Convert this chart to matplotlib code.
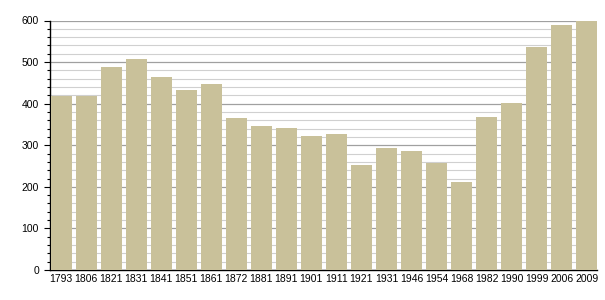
import matplotlib
matplotlib.use('Agg')
import matplotlib.pyplot as plt
import numpy as np
from matplotlib.ticker import MultipleLocator

years = ['1793', '1806', '1821', '1831', '1841', '1851', '1861', '1872', '1881', '1891', '1901',
         '1911', '1921', '1931', '1946', '1954', '1968', '1982', '1990', '1999', '2006', '2009']
population = [418, 418, 489, 507, 464, 434, 447, 366, 346, 341, 322,
              327, 252, 293, 286, 258, 212, 368, 401, 537, 589, 600]

plt.rcParams['font.family'] = ['Liberation Sans', 'DejaVu Sans']

fig = plt.figure(figsize=(6.05, 3.0), dpi=100)
ax = fig.add_axes([50 / 605, 30 / 300, 547 / 605, 249.5 / 300])

x = np.arange(len(years))
w = 0.83
ax.bar(x, population, width=w, color='#c9c19a', zorder=3)

ax.set_xlim(-w / 2 - 0.03, len(years) - 1 + w / 2)
ax.set_ylim(0, 600)
ax.yaxis.set_major_locator(MultipleLocator(100))
ax.yaxis.set_minor_locator(MultipleLocator(20))
ax.grid(axis='y', which='major', color='#a0a0a0', linewidth=0.9, zorder=0)
ax.grid(axis='y', which='minor', color='#d0d0d0', linewidth=0.8, zorder=0)

ax.set_xticks(x)
ax.set_xticklabels(years)
ax.tick_params(axis='x', length=0, pad=3, labelsize=7.5)
ax.tick_params(axis='y', which='major', length=4, width=0.8, pad=4, labelsize=7.5)
ax.tick_params(axis='y', which='minor', length=2, width=0.8)

for s in ['top', 'right']:
    ax.spines[s].set_visible(False)
ax.spines['left'].set_linewidth(1.0)
ax.spines['bottom'].set_linewidth(1.0)

fig.savefig('out.png', dpi=100)
